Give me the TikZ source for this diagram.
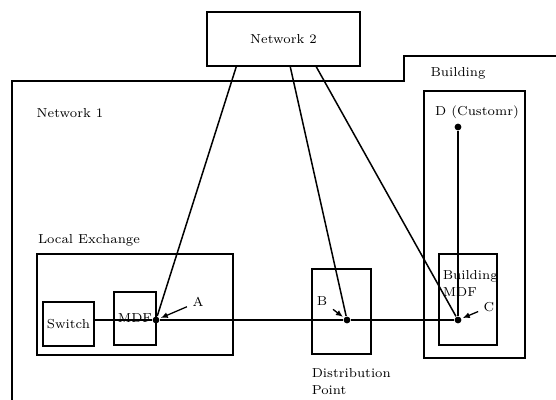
\documentclass[tikz,border=0pt]{standalone}
\usepackage{amsmath, amssymb}
\usepackage{tikz}
\usetikzlibrary{calc,arrows.meta}

\begin{document}
\begin{tikzpicture}[x=0.5pt,y=-0.5pt,
	font=\fontsize{6.5}{8.5}\selectfont,
	line width=0.75pt,
	caja/.style={draw, inner sep=0pt},
	punto/.style={circle, fill, inner sep=0pt, minimum size=3.4pt},
	flecha/.style={-{Latex[length=3.5pt,width=3pt]}, line width=0.65pt, shorten <=-1pt, shorten >=0.5pt}]

		\useasboundingbox (0,0) rectangle (556,400);

		% Red 1 (contorno)
		\draw (12,400) -- (12,81) -- (404,81) -- (404,56) -- (556,56);
		\node (n1) at (70,113) {Network 1};
		\node (edif) at (458,73) {Building};

		% Red 2
		\node[caja, minimum width=76.5pt, minimum height=27pt] (net2) at (283.5,39) {Network 2};

		% Central local
		\node (le) at (89,240) {Local Exchange};
		\node[caja, minimum width=98pt, minimum height=50.5pt] (loc) at (135,304.5) {};
		\node[caja, minimum width=25.5pt, minimum height=22pt] (sw) at (68.5,324) {Switch};
		\node[caja, minimum width=21pt, minimum height=26.5pt] (mdf) at (135,318.5) {MDF};

		% Punto de distribucion
		\node[caja, minimum width=29.5pt, minimum height=42.5pt] (dpbox) at (341.5,311.5) {};
		\node[align=left, anchor=north west, inner sep=0pt] (dp) at (311,368) {Distribution\\Point};

		% Edificio
		\node[caja, minimum width=50.5pt, minimum height=133.5pt] (bld) at (474.5,224.5) {};
		\node[caja, minimum width=29pt, minimum height=45.5pt] (bmdf) at (468,299.5) {};
		\node[align=left, anchor=west, inner sep=0pt] (bmdft) at (442,283) {Building\\MDF};
		\node (cli) at (477,112) {D (Customr)};

		% Puntos A, B, C, D
		\node[punto] (A) at (156,320) {};
		\node[punto] (B) at (347,320) {};
		\node[punto] (C) at (458,320) {};
		\node[punto] (D) at (458,127) {};

		% Linea de abonado
		\draw (sw.east |- A) -- (A) -- (B) -- (C);
		\draw (D) -- (C);

		% Enlaces desde la red 2
		\coordinate (n2a) at ($(net2.south west)+(30,0)$);
		\coordinate (n2b) at ($(net2.south west)+(84,0)$);
		\coordinate (n2c) at ($(net2.south west)+(110,0)$);
		\draw (n2a) -- (A);
		\draw (n2b) -- (B);
		\draw (n2c) -- (C);

		% Etiquetas
		\node (lA) at (198,302) {A};
		\node (lB) at (322,301) {B};
		\node (lC) at (489,307) {C};
		\draw[flecha] (lA) -- (A);
		\draw[flecha] (lB) -- (B);
		\draw[flecha] (lC) -- (C);

	\end{tikzpicture}
\end{document}
